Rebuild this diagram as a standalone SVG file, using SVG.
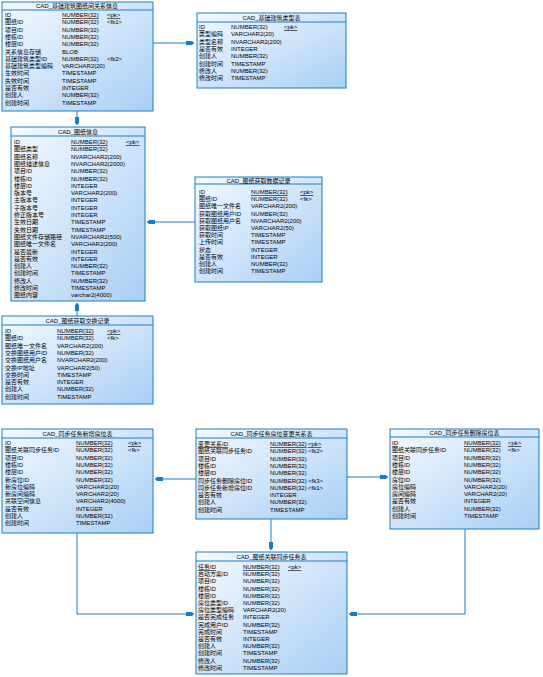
<svg xmlns="http://www.w3.org/2000/svg" width="543" height="677" viewBox="0 0 543 677">
<defs>
<linearGradient id="g" x1="0" y1="0" x2="1" y2="1">
<stop offset="0" stop-color="#f4f9ff"/>
<stop offset="1" stop-color="#a9cff5"/>
</linearGradient>
<marker id="arr" markerUnits="userSpaceOnUse" markerWidth="10" markerHeight="6" viewBox="-9 -3 10 6" refX="0" refY="0" orient="auto">
<path d="M-8,-2 L-2,-2 L0,0 L-2,2 L-8,2 Z" fill="#1a7cc8"/>
</marker>
<style>
.box{fill:url(#g);stroke:#1a7cc8;stroke-width:1}
.sep{stroke:#1a7cc8;stroke-width:1}
text{font-family:"Liberation Sans","Noto Sans CJK SC",sans-serif;font-size:6px;fill:#000}
.t{text-anchor:middle}
.pk{text-decoration:underline}
.c{fill:none;stroke:#1a7cc8;stroke-width:1;marker-end:url(#arr)}
</style>
</defs>
<rect width="543" height="677" fill="#fff"/>
<g id="connectors">
<path class="c" d="M77,111 V125"/>
<path class="c" d="M153,43 H194"/>
<path class="c" d="M195,222 H147"/>
<path class="c" d="M77,316 V303"/>
<path class="c" d="M196,479 H155"/>
<path class="c" d="M347,477 H388"/>
<path class="c" d="M271,519 V550"/>
<path class="c" d="M77,533 V614 H194"/>
<path class="c" d="M465,529 V614 H349"/>
</g>
<g id="t1">
<rect class="box" x="2" y="2" width="151" height="109"/>
<line class="sep" x1="2" y1="10" x2="153" y2="10"/>
<text class="t" x="77" y="8">CAD_基础建筑图纸间关系信息</text>
<text x="5" y="17" class="pk">ID</text><text x="62" y="17" class="pk">NUMBER(32)</text><text x="107" y="17" class="pk">&lt;pk&gt;</text>
<text x="5" y="24.3">图纸ID</text><text x="62" y="24.3">NUMBER(32)</text><text x="107" y="24.3">&lt;fk1&gt;</text>
<text x="5" y="31.6">项目ID</text><text x="62" y="31.6">NUMBER(32)</text>
<text x="5" y="38.9">楼栋ID</text><text x="62" y="38.9">NUMBER(32)</text>
<text x="5" y="46.2">楼层ID</text><text x="62" y="46.2">NUMBER(32)</text>
<text x="5" y="53.5">关系信息存储</text><text x="62" y="53.5">BLOB</text>
<text x="5" y="60.8">基础建筑类型ID</text><text x="62" y="60.8">NUMBER(32)</text><text x="107" y="60.8">&lt;fk2&gt;</text>
<text x="5" y="68.1">基础建筑类型编码</text><text x="62" y="68.1">VARCHAR2(20)</text>
<text x="5" y="75.4">生效时间</text><text x="62" y="75.4">TIMESTAMP</text>
<text x="5" y="82.7">失效时间</text><text x="62" y="82.7">TIMESTAMP</text>
<text x="5" y="90">是否有效</text><text x="62" y="90">INTEGER</text>
<text x="5" y="97.3">创建人</text><text x="62" y="97.3">NUMBER(32)</text>
<text x="5" y="104.6">创建时间</text><text x="62" y="104.6">TIMESTAMP</text>
</g>
<g id="t2">
<rect class="box" x="197" y="13" width="149" height="75"/>
<line class="sep" x1="197" y1="22" x2="346" y2="22"/>
<text class="t" x="271.5" y="20">CAD_基础建筑类型表</text>
<text x="199" y="29" class="pk">ID</text><text x="231" y="29">NUMBER(32)</text><text x="284" y="29" class="pk">&lt;pk&gt;</text>
<text x="199" y="36.3">类型编码</text><text x="231" y="36.3">VARCHAR2(20)</text>
<text x="199" y="43.6">类型名称</text><text x="231" y="43.6">NVARCHAR2(200)</text>
<text x="199" y="50.9">是否有效</text><text x="231" y="50.9">INTEGER</text>
<text x="199" y="58.2">创建人</text><text x="231" y="58.2">NUMBER(32)</text>
<text x="199" y="65.5">创建时间</text><text x="231" y="65.5">TIMESTAMP</text>
<text x="199" y="72.8">修改人</text><text x="231" y="72.8">NUMBER(32)</text>
<text x="199" y="80.1">修改时间</text><text x="231" y="80.1">TIMESTAMP</text>
</g>
<g id="t3">
<rect class="box" x="11" y="127" width="134" height="174"/>
<line class="sep" x1="11" y1="136" x2="145" y2="136"/>
<text class="t" x="78" y="134">CAD_图纸信息</text>
<text x="14" y="144" class="pk">ID</text><text x="71" y="144" class="pk">NUMBER(32)</text><text x="126" y="144" class="pk">&lt;pk&gt;</text>
<text x="14" y="151.3">图纸类型</text><text x="71" y="151.3">NUMBER(32)</text>
<text x="14" y="158.6">图纸名称</text><text x="71" y="158.6">NVARCHAR2(200)</text>
<text x="14" y="165.9">图纸描述信息</text><text x="71" y="165.9">NVARCHAR2(2000)</text>
<text x="14" y="173.2">项目ID</text><text x="71" y="173.2">NUMBER(32)</text>
<text x="14" y="180.5">楼栋ID</text><text x="71" y="180.5">NUMBER(32)</text>
<text x="14" y="187.8">楼层ID</text><text x="71" y="187.8">INTEGER</text>
<text x="14" y="195.1">版本号</text><text x="71" y="195.1">VARCHAR2(200)</text>
<text x="14" y="202.4">主版本号</text><text x="71" y="202.4">INTEGER</text>
<text x="14" y="209.7">子版本号</text><text x="71" y="209.7">INTEGER</text>
<text x="14" y="217">修正版本号</text><text x="71" y="217">INTEGER</text>
<text x="14" y="224.3">生效日期</text><text x="71" y="224.3">TIMESTAMP</text>
<text x="14" y="231.6">失效日期</text><text x="71" y="231.6">TIMESTAMP</text>
<text x="14" y="238.9">图纸文件存储路径</text><text x="71" y="238.9">NVARCHAR2(500)</text>
<text x="14" y="246.2">图纸唯一文件名</text><text x="71" y="246.2">VARCHAR2(200)</text>
<text x="14" y="253.5">是否最新</text><text x="71" y="253.5">INTEGER</text>
<text x="14" y="260.8">是否有效</text><text x="71" y="260.8">INTEGER</text>
<text x="14" y="268.1">创建人</text><text x="71" y="268.1">NUMBER(32)</text>
<text x="14" y="275.4">创建时间</text><text x="71" y="275.4">TIMESTAMP</text>
<text x="14" y="282.7">修改人</text><text x="71" y="282.7">NUMBER(32)</text>
<text x="14" y="290">修改时间</text><text x="71" y="290">TIMESTAMP</text>
<text x="14" y="297.3">图纸内容</text><text x="71" y="297.3">varchar2(4000)</text>
</g>
<g id="t4">
<rect class="box" x="195" y="177" width="127" height="105"/>
<line class="sep" x1="195" y1="184" x2="322" y2="184"/>
<text class="t" x="258.5" y="182.5">CAD_图纸获取数据记录</text>
<text x="199" y="194" class="pk">ID</text><text x="251" y="194" class="pk">NUMBER(32)</text><text x="300" y="194" class="pk">&lt;pk&gt;</text>
<text x="199" y="201.2">图纸ID</text><text x="251" y="201.2">NUMBER(32)</text><text x="300" y="201.2">&lt;fk&gt;</text>
<text x="199" y="208.4">图纸唯一文件名</text><text x="251" y="208.4">VARCHAR2(200)</text>
<text x="199" y="215.6">获取图纸用户ID</text><text x="251" y="215.6">NUMBER(32)</text>
<text x="199" y="222.8">获取图纸用户名</text><text x="251" y="222.8">NVARCHAR2(200)</text>
<text x="199" y="230">获取图纸IP</text><text x="251" y="230">VARCHAR2(50)</text>
<text x="199" y="237.2">获取时间</text><text x="251" y="237.2">TIMESTAMP</text>
<text x="199" y="244.4">上传时间</text><text x="251" y="244.4">TIMESTAMP</text>
<text x="199" y="251.6">状态</text><text x="251" y="251.6">INTEGER</text>
<text x="199" y="258.8">是否有效</text><text x="251" y="258.8">INTEGER</text>
<text x="199" y="266">创建人</text><text x="251" y="266">NUMBER(32)</text>
<text x="199" y="273.2">创建时间</text><text x="251" y="273.2">TIMESTAMP</text>
</g>
<g id="t5">
<rect class="box" x="2" y="316" width="151" height="88"/>
<line class="sep" x1="2" y1="325" x2="153" y2="325"/>
<text class="t" x="77.5" y="323">CAD_图纸获取交换记录</text>
<text x="5" y="333" class="pk">ID</text><text x="57" y="333" class="pk">NUMBER(32)</text><text x="107" y="333" class="pk">&lt;pk&gt;</text>
<text x="5" y="340.3">图纸ID</text><text x="57" y="340.3">NUMBER(32)</text><text x="107" y="340.3">&lt;fk&gt;</text>
<text x="5" y="347.6">图纸唯一文件名</text><text x="57" y="347.6">VARCHAR2(200)</text>
<text x="5" y="354.9">交换图纸用户ID</text><text x="57" y="354.9">NUMBER(32)</text>
<text x="5" y="362.2">交换图纸用户名</text><text x="57" y="362.2">NVARCHAR2(200)</text>
<text x="5" y="369.5">交换IP地址</text><text x="57" y="369.5">VARCHAR2(50)</text>
<text x="5" y="376.8">交换时间</text><text x="57" y="376.8">TIMESTAMP</text>
<text x="5" y="384.1">是否有效</text><text x="57" y="384.1">INTEGER</text>
<text x="5" y="391.4">创建人</text><text x="57" y="391.4">NUMBER(32)</text>
<text x="5" y="398.7">创建时间</text><text x="57" y="398.7">TIMESTAMP</text>
</g>
<g id="t6">
<rect class="box" x="2" y="429" width="151" height="104"/>
<line class="sep" x1="2" y1="438" x2="153" y2="438"/>
<text class="t" x="77.5" y="436">CAD_同步任务新增房位表</text>
<text x="5" y="445" class="pk">ID</text><text x="76" y="445" class="pk">NUMBER(32)</text><text x="128" y="445" class="pk">&lt;pk&gt;</text>
<text x="5" y="452.3">图纸关联同步任务ID</text><text x="76" y="452.3">NUMBER(32)</text><text x="128" y="452.3">&lt;fk&gt;</text>
<text x="5" y="459.6">项目ID</text><text x="76" y="459.6">NUMBER(32)</text>
<text x="5" y="466.9">楼栋ID</text><text x="76" y="466.9">NUMBER(32)</text>
<text x="5" y="474.2">楼层ID</text><text x="76" y="474.2">NUMBER(32)</text>
<text x="5" y="481.5">新房位ID</text><text x="76" y="481.5">NUMBER(32)</text>
<text x="5" y="488.8">新房位编码</text><text x="76" y="488.8">VARCHAR2(20)</text>
<text x="5" y="496.1">新房间编码</text><text x="76" y="496.1">VARCHAR2(20)</text>
<text x="5" y="503.4">关联空间信息</text><text x="76" y="503.4">VARCHAR2(4000)</text>
<text x="5" y="510.7">是否有效</text><text x="76" y="510.7">INTEGER</text>
<text x="5" y="518">创建人</text><text x="76" y="518">NUMBER(32)</text>
<text x="5" y="525.3">创建时间</text><text x="76" y="525.3">TIMESTAMP</text>
</g>
<g id="t7">
<rect class="box" x="196" y="429" width="151" height="90"/>
<line class="sep" x1="196" y1="438" x2="347" y2="438"/>
<text class="t" x="271.5" y="436">CAD_同步任务房位变更关系表</text>
<text x="198" y="446" class="pk">变更关系ID</text><text x="270" y="446" class="pk">NUMBER(32)</text><text x="308" y="446" class="pk">&lt;pk&gt;</text>
<text x="198" y="453.3">图纸关联同步任务ID</text><text x="270" y="453.3">NUMBER(32)</text><text x="308" y="453.3">&lt;fk2&gt;</text>
<text x="198" y="460.6">项目ID</text><text x="270" y="460.6">NUMBER(32)</text>
<text x="198" y="467.9">楼栋ID</text><text x="270" y="467.9">NUMBER(32)</text>
<text x="198" y="475.2">楼层ID</text><text x="270" y="475.2">NUMBER(32)</text>
<text x="198" y="482.5">同步任务删除房位ID</text><text x="270" y="482.5">NUMBER(32)</text><text x="308" y="482.5">&lt;fk3&gt;</text>
<text x="198" y="489.8">同步任务新增房位ID</text><text x="270" y="489.8">NUMBER(32)</text><text x="308" y="489.8">&lt;fk1&gt;</text>
<text x="198" y="497.1">是否有效</text><text x="270" y="497.1">INTEGER</text>
<text x="198" y="504.4">创建人</text><text x="270" y="504.4">NUMBER(32)</text>
<text x="198" y="511.7">创建时间</text><text x="270" y="511.7">TIMESTAMP</text>
</g>
<g id="t8">
<rect class="box" x="390" y="429" width="149" height="100"/>
<line class="sep" x1="390" y1="437" x2="539" y2="437"/>
<text class="t" x="464.5" y="435">CAD_同步任务删除房位表</text>
<text x="392" y="445" class="pk">ID</text><text x="464" y="445" class="pk">NUMBER(32)</text><text x="508" y="445" class="pk">&lt;pk&gt;</text>
<text x="392" y="452.3">图纸关联同步任务ID</text><text x="464" y="452.3">NUMBER(32)</text><text x="508" y="452.3">&lt;fk&gt;</text>
<text x="392" y="459.6">项目ID</text><text x="464" y="459.6">NUMBER(32)</text>
<text x="392" y="466.9">楼栋ID</text><text x="464" y="466.9">NUMBER(32)</text>
<text x="392" y="474.2">楼层ID</text><text x="464" y="474.2">NUMBER(32)</text>
<text x="392" y="481.5">房位ID</text><text x="464" y="481.5">NUMBER(32)</text>
<text x="392" y="488.8">房位编码</text><text x="464" y="488.8">VARCHAR2(20)</text>
<text x="392" y="496.1">房间编码</text><text x="464" y="496.1">VARCHAR2(20)</text>
<text x="392" y="503.4">是否有效</text><text x="464" y="503.4">INTEGER</text>
<text x="392" y="510.7">创建人</text><text x="464" y="510.7">NUMBER(32)</text>
<text x="392" y="518">创建时间</text><text x="464" y="518">TIMESTAMP</text>
</g>
<g id="t9">
<rect class="box" x="196" y="552" width="151" height="122"/>
<line class="sep" x1="196" y1="561" x2="347" y2="561"/>
<text class="t" x="271.5" y="559">CAD_图纸关联同步任务表</text>
<text x="198" y="569" class="pk">任务ID</text><text x="243" y="569" class="pk">NUMBER(32)</text><text x="288" y="569" class="pk">&lt;pk&gt;</text>
<text x="198" y="576.2">启动方案ID</text><text x="243" y="576.2">NUMBER(32)</text>
<text x="198" y="583.4">项目ID</text><text x="243" y="583.4">NUMBER(32)</text>
<text x="198" y="590.6">楼栋ID</text><text x="243" y="590.6">NUMBER(32)</text>
<text x="198" y="597.8">楼层ID</text><text x="243" y="597.8">NUMBER(32)</text>
<text x="198" y="605">房位类型ID</text><text x="243" y="605">NUMBER(32)</text>
<text x="198" y="612.2">房位类型编码</text><text x="243" y="612.2">VARCHAR2(20)</text>
<text x="198" y="619.4">是否完成任务</text><text x="243" y="619.4">INTEGER</text>
<text x="198" y="626.6">完成用户ID</text><text x="243" y="626.6">NUMBER(32)</text>
<text x="198" y="633.8">完成时间</text><text x="243" y="633.8">TIMESTAMP</text>
<text x="198" y="641">是否有效</text><text x="243" y="641">INTEGER</text>
<text x="198" y="648.2">创建人</text><text x="243" y="648.2">NUMBER(32)</text>
<text x="198" y="655.4">创建时间</text><text x="243" y="655.4">TIMESTAMP</text>
<text x="198" y="662.6">修改人</text><text x="243" y="662.6">NUMBER(32)</text>
<text x="198" y="669.8">修改时间</text><text x="243" y="669.8">TIMESTAMP</text>
</g>
</svg>
